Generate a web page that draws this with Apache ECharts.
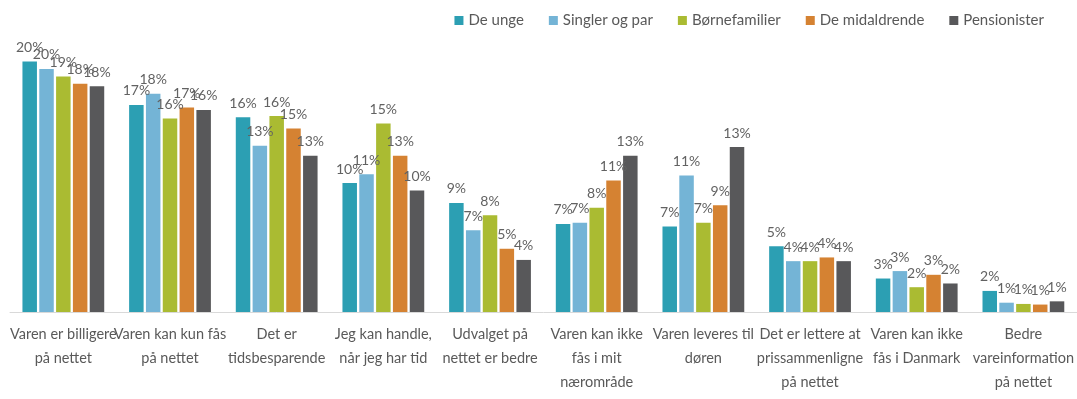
<!DOCTYPE html>
<html>
<head>
<meta charset="utf-8">
<script src="https://cdn.jsdelivr.net/npm/echarts@6/dist/echarts.min.js"></script>
<style>
  html, body { margin: 0; padding: 0; background: #fff; }
  #chart { width: 1077px; height: 399px; }
</style>
</head>
<body>
<div id="chart"></div>
<script>
// kategorier (linjeskift som i originalen)
const categories = [
  "Varen er billigere\npå nettet",
  "Varen kan kun fås\npå nettet",
  "Det er\ntidsbesparende",
  "Jeg kan handle,\nnår jeg har tid",
  "Udvalget på\nnettet er bedre",
  "Varen kan ikke\nfås i mit\nnærområde",
  "Varen leveres til\ndøren",
  "Det er lettere at\nprissammenligne\npå nettet",
  "Varen kan ikke\nfås i Danmark",
  "Bedre\nvareinformation\npå nettet"
];

const seriesNames = ["De unge", "Singler og par", "Børnefamilier", "De midaldrende", "Pensionister"];
const seriesColors = ["#2c9fb3", "#74b4d6", "#aabb32", "#d58232", "#58585a"];

// procent-værdier
const deUnge        = [20.2, 16.7, 15.7, 10.4, 8.8, 7.1, 6.9, 5.3, 2.7, 1.7];
const singlerOgPar  = [19.6, 17.6, 13.4, 11.1, 6.6, 7.2, 11.0, 4.1, 3.3, 0.75];
const boernefamilier = [19.0, 15.6, 15.8, 15.2, 7.8, 8.4, 7.2, 4.1, 2.0, 0.65];
const midaldrende   = [18.4, 16.5, 14.8, 12.6, 5.1, 10.6, 8.6, 4.4, 3.0, 0.6];
const pensionister  = [18.2, 16.3, 12.6, 9.8, 4.2, 12.6, 13.3, 4.1, 2.3, 0.86];

const seriesData = [deUnge, singlerOgPar, boernefamilier, midaldrende, pensionister];

const fontFamily = "Lato, 'Open Sans', sans-serif";
const textColor = "#595959";

const chart = echarts.init(document.getElementById("chart"));

const option = {
  animation: false,
  backgroundColor: "#fff",
  legend: {
    right: 28,
    top: 8,
    itemWidth: 9,
    itemHeight: 9,
    itemGap: 25,
    icon: "rect",
    textStyle: { fontFamily: fontFamily, fontSize: 15, color: textColor }
  },
  grid: { left: 10, right: 0, top: 39.2, bottom: 87 },
  xAxis: {
    type: "category",
    data: categories,
    axisLine: { lineStyle: { color: "#d9d9d9", width: 1 } },
    axisTick: { show: false },
    axisLabel: {
      interval: 0,
      margin: 10,
      fontFamily: fontFamily,
      fontSize: 14.5,
      lineHeight: 24,
      color: textColor
    }
  },
  yAxis: {
    type: "value",
    min: 0,
    max: 22,
    show: false,
    splitLine: { show: false }
  },
  series: seriesNames.map(function (name, i) {
    return {
      name: name,
      type: "bar",
      data: seriesData[i],
      barWidth: 14.5,
      barGap: "16%",
      itemStyle: { color: seriesColors[i] },
      label: {
        show: true,
        position: "top",
        distance: 7,
        fontFamily: fontFamily,
        fontSize: 14,
        color: "#626262",
        formatter: function (p) { return Math.round(p.value) + "%"; }
      }
    };
  })
};

chart.setOption(option);
</script>
</body>
</html>
